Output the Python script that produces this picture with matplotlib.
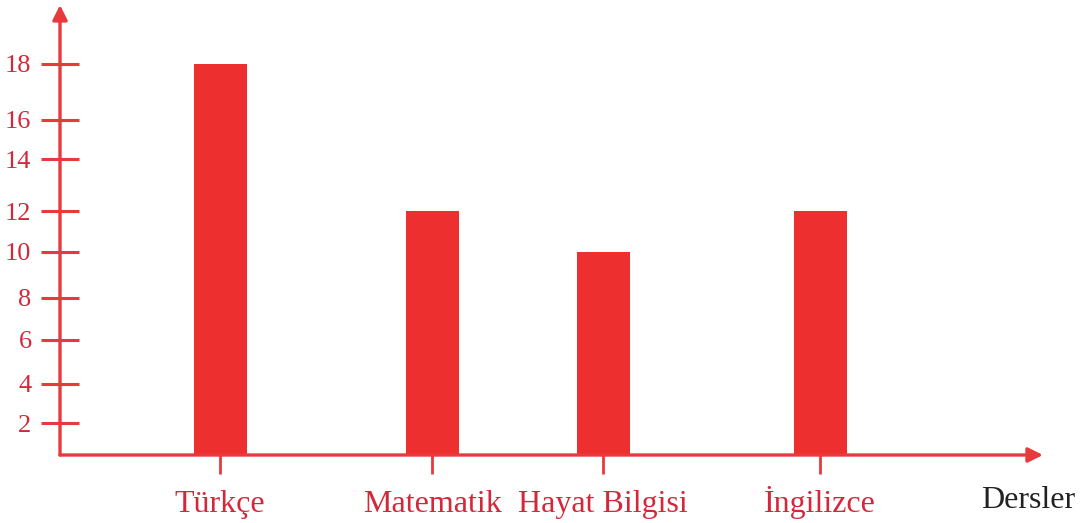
import numpy as np
import matplotlib.pyplot as plt
from matplotlib.scale import FuncScale

dersler = ["Türkçe", "Matematik", "Hayat Bilgisi", "İngilizce"]
degerler = [18, 12, 10, 12]
y_ticks = [2, 4, 6, 8, 10, 12, 14, 16, 18]

# uneven spacing of the printed axis: value -> height along the axis
scale_vals = [0, 2, 4, 6, 8, 10, 12, 14, 16, 18, 20]
scale_pos = [0, 32, 71, 115, 157, 203, 244, 296, 335, 391, 450]

bar_x = [160, 372, 543, 760]
bar_w = 53

red = "#ee2f2f"
axis_red = "#e8393c"
text_red = "#d3283a"

plt.rcParams["font.family"] = ["Liberation Serif", "DejaVu Serif"]

fig = plt.figure(figsize=(10.8, 5.23), dpi=100)
ax = fig.add_axes([60 / 1080, 68 / 523, 980 / 1080, 450 / 523])

fwd = lambda v: np.interp(v, scale_vals, scale_pos)
inv = lambda p: np.interp(p, scale_pos, scale_vals)
ax.set_yscale(FuncScale(ax, (fwd, inv)))
ax.set_ylim(0, 20)
ax.set_xlim(0, 980)

ax.bar(bar_x, degerler, width=bar_w, color=red, zorder=2)

for s in ax.spines.values():
    s.set_visible(False)

# axes with arrow heads
ax.annotate("", xy=(1.003, 0), xytext=(0, 0), xycoords="axes fraction",
            arrowprops=dict(arrowstyle="-|>", color=axis_red, lw=2.4,
                            mutation_scale=22, shrinkA=0, shrinkB=0),
            annotation_clip=False)
ax.annotate("", xy=(0, 1.0), xytext=(0, 0), xycoords="axes fraction",
            arrowprops=dict(arrowstyle="-|>", color=axis_red, lw=2.4,
                            mutation_scale=22, shrinkA=0, shrinkB=0),
            annotation_clip=False)

ax.set_yticks(y_ticks)
ax.set_yticklabels([str(t) for t in y_ticks])
ax.tick_params(axis="y", direction="inout", length=27, width=2.2,
               color=axis_red, labelcolor=text_red, labelsize=19, pad=7)

ax.set_xticks(bar_x)
ax.set_xticklabels(dersler, va="baseline")
ax.tick_params(axis="x", direction="out", length=14, width=2,
               color=axis_red, labelcolor=text_red, labelsize=23, pad=27)

fig.text(1075 / 1080, (523 - 508) / 523, "Dersler",
         ha="right", va="baseline", fontsize=23, color="#222222")

fig.savefig("out.png", dpi=100)
